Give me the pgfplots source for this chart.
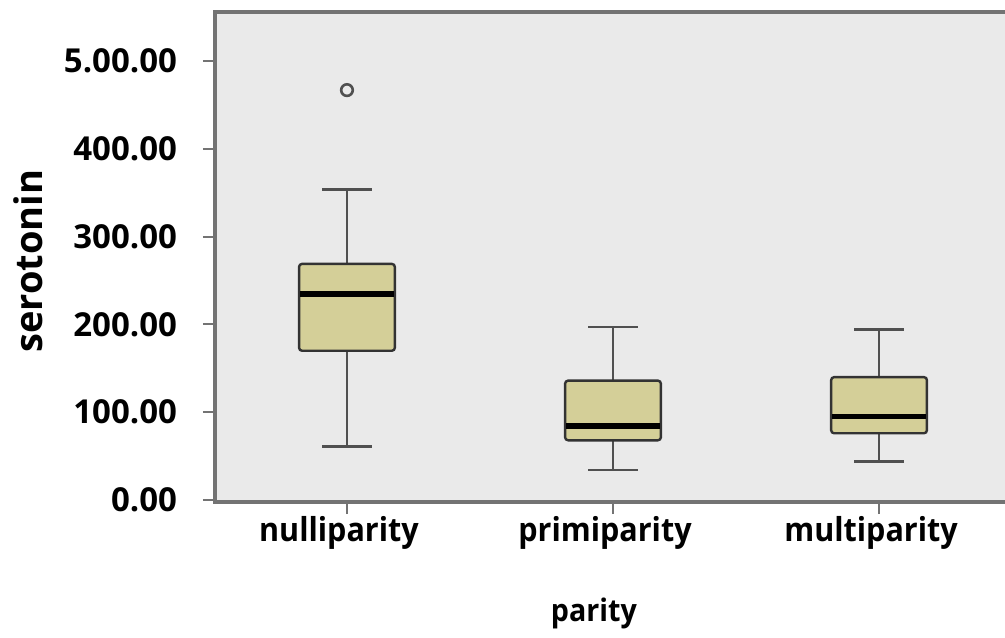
\documentclass[border=0pt]{standalone}
\usepackage{pgfplots}
\pgfplotsset{compat=1.18}
\usepackage{fontspec}
\setmainfont{Open Sans}
\newfontfamily\condfont{Open Sans}[FakeStretch=0.925]
\definecolor{bgcol}{RGB}{234,234,234}
\definecolor{boxcol}{RGB}{212,207,152}
\definecolor{axcol}{RGB}{115,115,115}
\definecolor{whcol}{RGB}{80,80,80}
\begin{document}
\begin{tikzpicture}
\useasboundingbox (-107.5pt,-67.5pt) rectangle (395pt,251pt);
\begin{axis}[
  at={(0,0)}, anchor=south west,
  scale only axis, width=398pt, height=245pt,
  xmin=0.504, xmax=3.496, ymin=-2.3, ymax=556,
  axis line style={axcol, line width=1.6pt},
  axis background/.style={fill=bgcol},
  xtick={1,2,3}, xticklabels={nulliparity,primiparity,multiparity},
  ytick={0,100,200,300,400,500},
  yticklabels={0.00,100.00,200.00,300.00,400.00,5.00.00},
  tick align=outside, major tick length=6pt,
  xtick pos=bottom, ytick pos=left,
  tick style={axcol, line width=1pt},
  /pgf/number format/assume math mode=true,
  yticklabel style={font=\bfseries\fontsize{16.5}{18}\selectfont, xshift=-9.5pt},
  xticklabel style={font=\condfont\bfseries\fontsize{16.5}{18}\selectfont, xshift=-4pt, yshift=2.5pt},
  xlabel={parity}, ylabel={serotonin},
  xlabel style={font=\condfont\bfseries\fontsize{15.5}{18}\selectfont, at={(axis description cs:0.476,-0.2265)}, anchor=center},
  ylabel style={font=\bfseries\fontsize{19}{20}\selectfont, at={(axis description cs:-0.234,0.492)}, anchor=center},
  unbounded coords=jump,
]
% five-number summaries (lower whisker, Q1, median, Q3, upper whisker)
% nulliparity: 61, 170, 235, 269, 354 ; outlier 467
% primiparity: 34, 68, 84, 136, 197
% multiparity: 44, 76, 95, 140, 194
\addplot[whcol, line width=1.3pt] coordinates {
 (1,269) (1,354) (nan,nan) (0.9075,354) (1.0925,354) (nan,nan)
 (1,170) (1,61) (nan,nan) (0.9075,61) (1.0925,61) (nan,nan)
 (2,136) (2,197) (nan,nan) (1.9075,197) (2.0925,197) (nan,nan)
 (2,68) (2,34) (nan,nan) (1.9075,34) (2.0925,34) (nan,nan)
 (3,140) (3,194) (nan,nan) (2.9075,194) (3.0925,194) (nan,nan)
 (3,76) (3,44) (nan,nan) (2.9075,44) (3.0925,44)
};
% boxes
\addplot[draw=black!80, fill=boxcol, line width=1.2pt, rounded corners=1.5pt] coordinates {(0.82,170) (1.18,170) (1.18,269) (0.82,269)} -- cycle;
\addplot[draw=black!80, fill=boxcol, line width=1.2pt, rounded corners=1.5pt] coordinates {(1.82,68) (2.18,68) (2.18,136) (1.82,136)} -- cycle;
\addplot[draw=black!80, fill=boxcol, line width=1.2pt, rounded corners=1.5pt] coordinates {(2.82,76) (3.18,76) (3.18,140) (2.82,140)} -- cycle;
% medians
\addplot[black, line width=2.8pt] coordinates {(0.825,235) (1.175,235) (nan,nan) (1.825,84) (2.175,84) (nan,nan) (2.825,95) (3.175,95)};
% outlier
\addplot[only marks, mark=o, mark size=2.9pt, mark options={draw=whcol, line width=1.3pt}] coordinates {(1,467)};
\end{axis}
\end{tikzpicture}
\end{document}
